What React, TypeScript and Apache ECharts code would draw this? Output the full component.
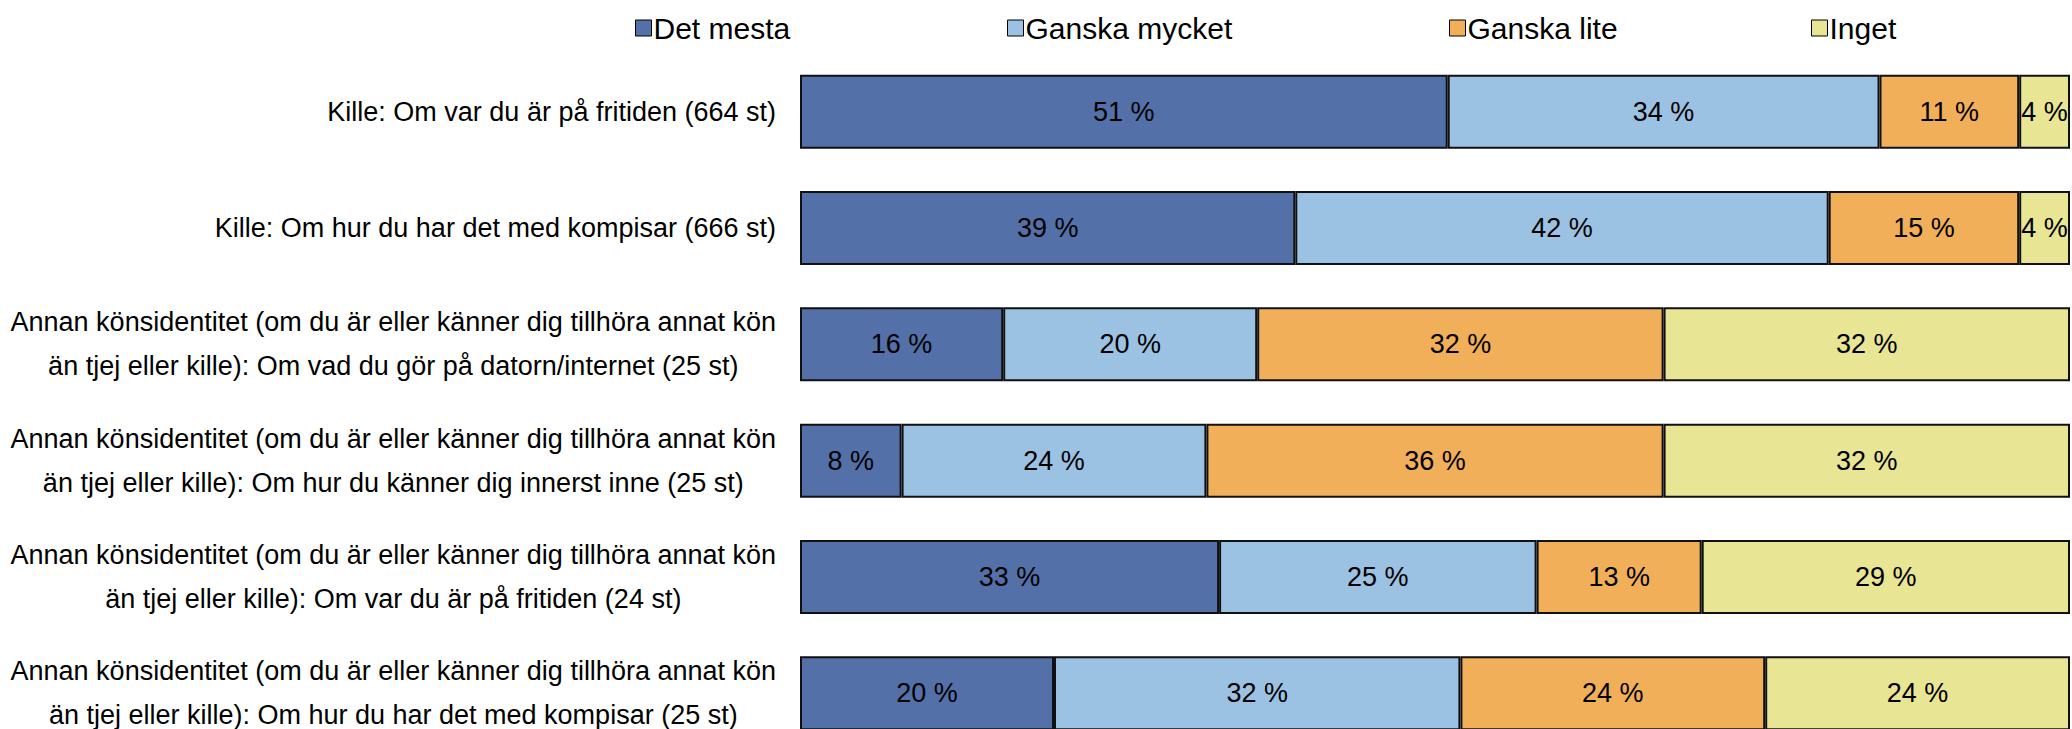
import React, { useEffect, useRef } from "react";
import * as echarts from "echarts";

const categories = [
  "Kille: Om var du är på fritiden (664 st)",
  "Kille: Om hur du har det med kompisar (666 st)",
  "Annan könsidentitet (om du är eller känner dig tillhöra annat kön\nän tjej eller kille): Om vad du gör på datorn/internet (25 st)",
  "Annan könsidentitet (om du är eller känner dig tillhöra annat kön\nän tjej eller kille): Om hur du känner dig innerst inne (25 st)",
  "Annan könsidentitet (om du är eller känner dig tillhöra annat kön\nän tjej eller kille): Om var du är på fritiden (24 st)",
  "Annan könsidentitet (om du är eller känner dig tillhöra annat kön\nän tjej eller kille): Om hur du har det med kompisar (25 st)",
];

const seriesNames = ["Det mesta", "Ganska mycket", "Ganska lite", "Inget"];
const detMesta = [51, 39, 16, 8, 33, 20];
const ganskaMycket = [34, 42, 20, 24, 25, 32];
const ganskaLite = [11, 15, 32, 36, 13, 24];
const inget = [4, 4, 32, 32, 29, 24];

const colors = ["#5371A8", "#9CC2E3", "#F0AF58", "#E8E594"];
const legendLeft = [630, 1002, 1444, 1806];
const FONT = "Liberation Sans, Arial, sans-serif";

export default function App() {
  const ref = useRef<HTMLDivElement>(null);
  useEffect(() => {
    document.body.style.margin = "0";
    const chart = echarts.init(ref.current!, null, { renderer: "svg" });
    const values = [detMesta, ganskaMycket, ganskaLite, inget];
    const option: any = {
      animation: false,
      legend: seriesNames.map((n, i) => ({
        data: [n],
        left: legendLeft[i],
        top: 8,
        itemWidth: 16,
        itemHeight: 16,
        itemGap: 0,
        icon: "rect",
        textStyle: {
          fontFamily: FONT,
          fontSize: 30,
          color: "#000",
          padding: [0, 0, 0, -3],
        },
        itemStyle: { borderColor: "#000", borderWidth: 1 },
      })),
      grid: { left: 800, right: 2, top: 53.5, height: 698, outerBoundsMode: "none", containLabel: false },
      xAxis: { type: "value", min: 0, max: 100, show: false },
      yAxis: {
        type: "category",
        data: categories,
        inverse: true,
        axisLine: { show: false },
        axisTick: { show: false },
        splitLine: { show: false },
        axisLabel: {
          margin: 24,
          color: "#000",
          formatter: (v: string) =>
            v
              .split("\n")
              .map((l) => `{c|${l}}`)
              .join("\n"),
          rich: {
            c: {
              align: "center",
              fontFamily: FONT,
              fontSize: 27,
              lineHeight: 44,
              color: "#000",
            },
          },
        },
      },
      series: seriesNames.map((n, i) => ({
        name: n,
        type: "bar",
        stack: "total",
        barWidth: 74,
        data: values[i],
        itemStyle: { color: colors[i], borderColor: "#111", borderWidth: 2 },
        label: {
          show: true,
          position: "inside",
          formatter: "{c} %",
          color: "#000",
          fontFamily: FONT,
          fontSize: 27,
        },
      })),
    };
    chart.setOption(option);
    return () => chart.dispose();
  }, []);
  return <div ref={ref} style={{ width: 2072, height: 729 }} />;
}
